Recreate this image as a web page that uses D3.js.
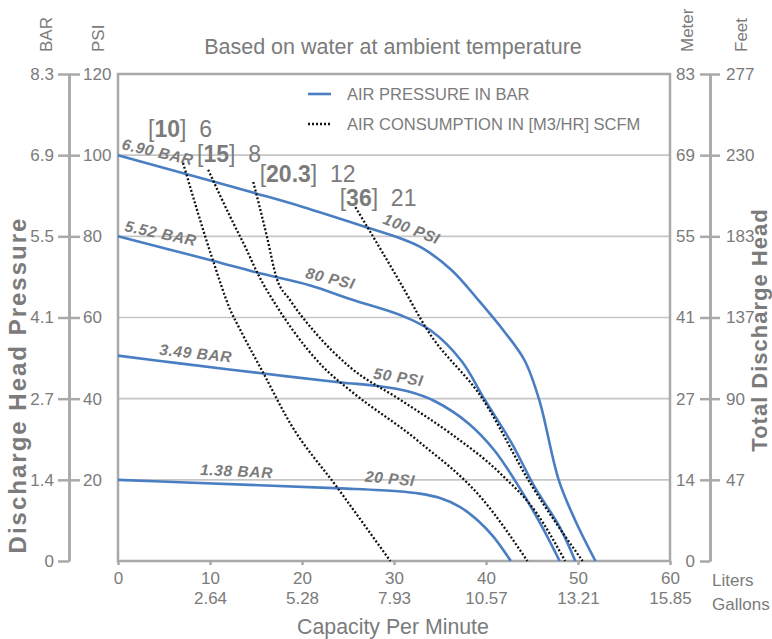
<!DOCTYPE html>
<html lang="en">
<head>
  <meta charset="UTF-8">
  <title>Pump Performance Curve</title>
  <script src="https://d3js.org/d3.v7.min.js"></script>
  <style>
    body { margin: 0; background: #fff; }
    svg text { font-family: "Liberation Sans", Arial, Helvetica, sans-serif; fill: #7b7b7b; }
  </style>
</head>
<body>

  <svg width="772" height="639"></svg>

  <script>
    // Axis tick labels
    const psiTicks = [0, 20, 40, 60, 80, 100, 120];
    const barLabels = ["0", "1.4", "2.7", "4.1", "5.5", "6.9", "8.3"];
    const meterLabels = ["0", "14", "27", "41", "55", "69", "83"];
    const feetLabels = ["", "47", "90", "137", "183", "230", "277"];
    const literTicks = [0, 10, 20, 30, 40, 50, 60];
    const gallonLabels = ["", "2.64", "5.28", "7.93", "10.57", "13.21", "15.85"];

    // Air pressure curves: [liters per minute, psi]
    const psi100 = [[0, 100], [7, 95.6], [15.1, 90.5], [20, 87.3], [27.2, 82.1], [30.8, 79.4],
                    [33, 77.2], [36.3, 71.6], [39.2, 64.2], [42, 56.5], [44.2, 49.4], [45.8, 39.6],
                    [47.9, 20], [49.7, 10], [51.9, 0]];
    const psi80 = [[0, 80], [10.3, 74], [15.1, 71.1], [20.9, 67.9], [25.3, 64.5], [30.8, 60.5],
                   [34, 56.8], [37.3, 49.4], [39.9, 39.6], [42.8, 29], [45.3, 18.2], [48, 8.4], [49.7, 0]];
    const psi50 = [[0, 50.6], [6.7, 48.7], [15.8, 46.2], [24.2, 44], [28, 43.2], [31.5, 41.8], [34.5, 39.3],
                   [38.1, 33.9], [40.9, 27.3], [43.6, 18.2], [46.1, 8.4], [48, 0]];
    const psi20 = [[0, 20], [6.7, 19.4], [24.2, 17.9], [30.4, 17.2], [32.8, 16.6], [35, 15.5], [37.2, 13.3],
                   [39.2, 9.8], [40.8, 6], [42.7, 0]];
    const pressureNames = ["100 PSI", "80 PSI", "50 PSI", "20 PSI"];
    const barNames = ["6.90 BAR", "5.52 BAR", "3.49 BAR", "1.38 BAR"];

    // Air consumption curves
    const air10 = [[7.07, 98.1], [10.3, 74.2], [12.2, 61.9], [13.3, 56.9], [15.8, 46.3], [18.7, 34],
                   [23.8, 18.2], [29.6, 0]];
    const air15 = [[9.8, 96.4], [12.2, 84.8], [14, 76.6], [15.1, 71.2], [17.3, 62.6], [19, 56.9],
                   [22.3, 47.8], [25.2, 42.1], [32.5, 29.8], [39.7, 15], [44.5, 0]];
    const air20 = [[14.7, 93.4], [15.4, 87.2], [16.2, 79.8], [17.2, 70], [18.7, 64.3], [21.2, 56.9],
                   [25.2, 47.8], [30.7, 39.7], [36.1, 31.5], [41.5, 21.7], [45.5, 11.8], [48.6, 0]];
    const air36 = [[25.8, 87.2], [27.1, 82.3], [30.7, 68.5], [33.6, 57], [39.7, 39.7], [44.8, 19.2], [50.5, 0]];
    const m3hr = ["10", "15", "20.3", "36"];
    const scfm = ["6", "8", "12", "21"];

    const svg = d3.select("svg");
    const gray = "#a9a9a9";
    const blue = "#4a7ec3";

    const x = d3.scaleLinear().domain([0, 60]).range([118, 670]);
    const y = d3.scaleLinear().domain([0, 120]).range([561, 74]);

    // grid lines
    svg.append("g").selectAll("line")
      .data(psiTicks.slice(1, -1))
      .enter().append("line")
      .attr("x1", x(0)).attr("x2", x(60))
      .attr("y1", d => y(d)).attr("y2", d => y(d))
      .attr("stroke", "#c6c6c6").attr("stroke-width", 1.6);

    // plot frame
    svg.append("rect")
      .attr("x", x(0)).attr("y", y(120))
      .attr("width", x(60) - x(0)).attr("height", y(0) - y(120))
      .attr("fill", "none").attr("stroke", gray).attr("stroke-width", 2.5);

    function styleAxis(g) {
      g.selectAll("path, line").attr("stroke", gray).attr("stroke-width", 2.5);
      g.selectAll("text").attr("fill", "#7b7b7b").style("font-size", "17px")
        .attr("font-family", null);
    }

    // left axes: BAR | PSI
    svg.append("g")
      .attr("transform", "translate(69,0)")
      .call(d3.axisLeft(y).tickValues(psiTicks).tickSize(11).tickSizeOuter(0).tickPadding(4)
        .tickFormat((d, i) => barLabels[i]))
      .call(styleAxis);
    svg.append("g")
      .attr("transform", "translate(69,0)")
      .call(d3.axisRight(y).tickValues(psiTicks.slice(1)).tickSize(11).tickSizeOuter(0).tickPadding(3))
      .call(styleAxis);

    // right axes: Meter | Feet
    svg.append("g")
      .attr("transform", "translate(710,0)")
      .call(d3.axisLeft(y).tickValues(psiTicks).tickSize(10).tickSizeOuter(0).tickPadding(5)
        .tickFormat((d, i) => meterLabels[i]))
      .call(styleAxis);
    svg.append("g")
      .attr("transform", "translate(710,0)")
      .call(d3.axisRight(y).tickValues(psiTicks.slice(1)).tickSize(10).tickSizeOuter(0).tickPadding(6)
        .tickFormat(d => feetLabels[psiTicks.indexOf(d)]))
      .call(styleAxis);

    // bottom axes: liters and gallons
    const xAxisG = svg.append("g")
      .attr("transform", `translate(0,${y(0)})`)
      .call(d3.axisBottom(x).tickValues(literTicks).tickSize(4).tickSizeOuter(0).tickPadding(7))
      .call(styleAxis);
    xAxisG.select(".domain").remove();
    svg.append("g")
      .attr("transform", `translate(0,${y(0) + 24})`)
      .call(d3.axisBottom(x).tickValues(literTicks.slice(1)).tickSize(0).tickSizeOuter(0).tickPadding(7)
        .tickFormat(d => gallonLabels[literTicks.indexOf(d)]))
      .call(styleAxis)
      .select(".domain").remove();

    svg.append("text").attr("x", 712).attr("y", 586).style("font-size", "17px").text("Liters");
    svg.append("text").attr("x", 712).attr("y", 610).style("font-size", "17px").text("Gallons");

    // titles
    svg.append("text")
      .attr("x", 393).attr("y", 54).attr("text-anchor", "middle")
      .style("font-size", "21.5px").text("Based on water at ambient temperature");
    svg.append("text")
      .attr("x", 393).attr("y", 634).attr("text-anchor", "middle")
      .style("font-size", "21.3px").text("Capacity Per Minute");
    svg.append("text")
      .attr("transform", "translate(26,385) rotate(-90)").attr("text-anchor", "middle")
      .style("font-size", "24px").style("font-weight", "bold").style("letter-spacing", "2px")
      .text("Discharge Head Pressure");
    svg.append("text")
      .attr("transform", "translate(767,330) rotate(-90)").attr("text-anchor", "middle")
      .style("font-size", "22px").style("font-weight", "bold").style("letter-spacing", "1px")
      .text("Total Discharge Head");

    [["BAR", 52], ["PSI", 104], ["Meter", 693], ["Feet", 747]].forEach(([t, px]) => {
      svg.append("text")
        .attr("transform", `translate(${px},52) rotate(-90)`)
        .style("font-size", "17px").text(t);
    });

    // curves
    const smooth = d3.line().x(d => x(d[0])).y(d => y(d[1])).curve(d3.curveCatmullRom.alpha(0.5));
    const line = d3.line().x(d => x(d[0])).y(d => y(d[1])).curve(d3.curveMonotoneX);

    svg.append("g").selectAll("path")
      .data([psi100, psi80, psi50, psi20])
      .enter().append("path")
      .attr("d", smooth)
      .attr("fill", "none").attr("stroke", blue).attr("stroke-width", 2.6);

    svg.append("g").selectAll("path")
      .data([air10, air15, air20, air36])
      .enter().append("path")
      .attr("d", line)
      .attr("fill", "none").attr("stroke", "#111").attr("stroke-width", 2.3)
      .attr("stroke-dasharray", "2 2");

    // curve labels (anchor in data units, angle in degrees)
    const barAnchors = [[0.33, 101.5, 13], [0.65, 81.3, 12], [4.46, 50.8, 6], [8.9, 21.2, 2.5]];
    const psiAnchors = [[28.7, 83.2, 21], [20.3, 69.8, 13.5], [27.7, 45, 9], [26.8, 19.6, 5.5]];

    function curveLabel(text, a) {
      svg.append("text")
        .attr("transform", `translate(${x(a[0])},${y(a[1])}) rotate(${a[2]})`)
        .style("font-size", "15.5px").style("font-weight", "bold").style("font-style", "italic")
        .style("letter-spacing", "0.6px")
        .text(text);
    }
    barNames.forEach((t, i) => curveLabel(t, barAnchors[i]));
    pressureNames.forEach((t, i) => curveLabel(t, psiAnchors[i]));

    // air consumption labels
    const airAnchors = [[3.26, 104.5], [8.6, 98.3], [15.4, 93.4], [24.1, 87.5]];
    m3hr.forEach((m, i) => {
      const t = svg.append("text")
        .attr("x", x(airAnchors[i][0])).attr("y", y(airAnchors[i][1]))
        .style("font-size", "23px");
      t.append("tspan").text("[");
      t.append("tspan").style("font-weight", "bold").text(m);
      t.append("tspan").text("]\u00a0 " + scfm[i]);
    });

    // legend
    const legendItems = [
      { text: "AIR PRESSURE IN BAR", color: blue, dash: null, width: 2.6 },
      { text: "AIR CONSUMPTION IN [M3/HR] SCFM", color: "#111", dash: "2 2", width: 2.3 }
    ];
    const legend = svg.append("g").attr("transform", "translate(308,94)");
    legend.selectAll("line")
      .data(legendItems).enter().append("line")
      .attr("x1", 0).attr("x2", 23)
      .attr("y1", (d, i) => i * 30).attr("y2", (d, i) => i * 30)
      .attr("stroke", d => d.color).attr("stroke-width", d => d.width)
      .attr("stroke-dasharray", d => d.dash);
    legend.selectAll("text")
      .data(legendItems).enter().append("text")
      .attr("x", 39).attr("y", (d, i) => i * 30 + 6)
      .style("font-size", "16.5px")
      .text(d => d.text);
  </script>

</body>
</html>
